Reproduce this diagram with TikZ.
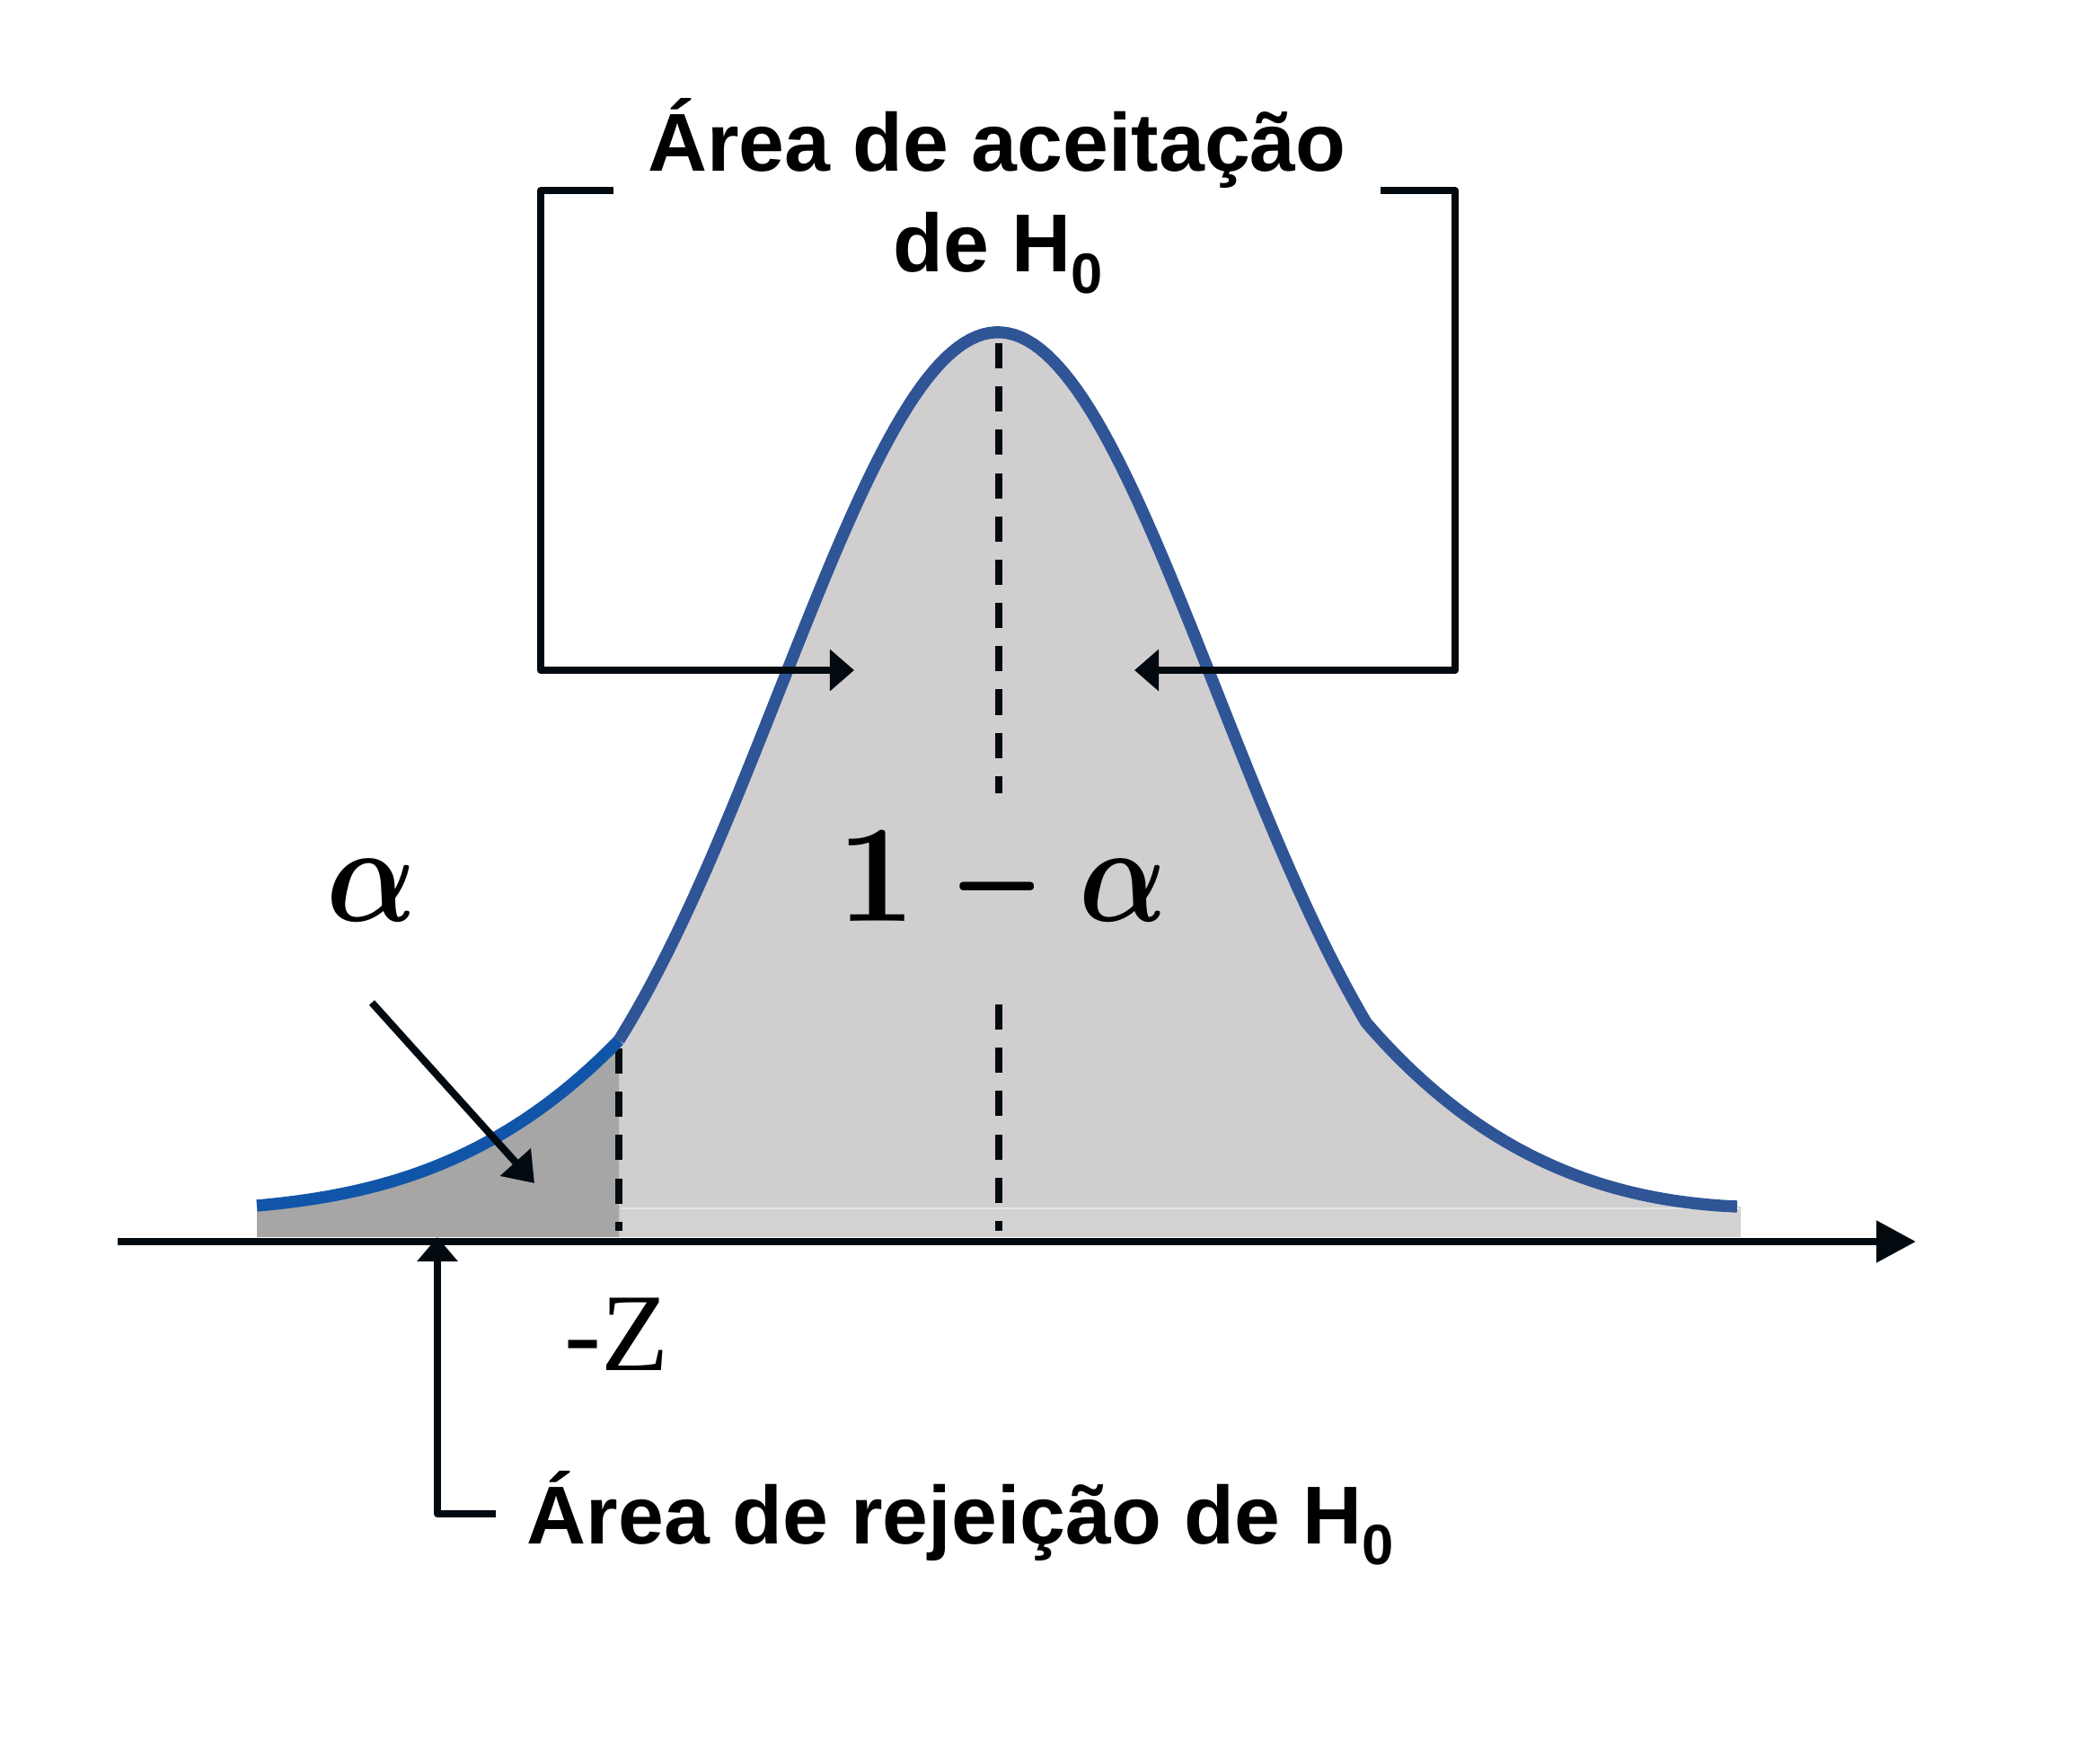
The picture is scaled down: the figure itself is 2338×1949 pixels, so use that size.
\documentclass[tikz,border=0pt]{standalone}
\usepackage{fontspec}
\setmainfont{Liberation Sans}
\newfontfamily\serifZ{Liberation Serif}
\usetikzlibrary{arrows.meta}
\definecolor{fillL}{HTML}{D0CECF}
\definecolor{fillD}{HTML}{A6A6A6}
\definecolor{fillS}{HTML}{D3D2D2}
\definecolor{curveA}{HTML}{1155A8}
\definecolor{curveB}{HTML}{2F5597}
\definecolor{ink}{HTML}{020A10}
\newcommand\hsub{\raisebox{-6.8pt}{\fontsize{18}{18}\selectfont 0}}
\tikzset{
  inkline/.style={draw=ink, line width=2.3pt, line join=round},
  brarrow/.style={-{Triangle[length=7.7pt,width=12.8pt]}},
  dashln/.style={draw=ink, line width=2pt, dash pattern=on 8pt off 5.7pt},
  crv/.style={line width=3.8pt},
  lbl/.style={inner sep=0pt, font=\bfseries\fontsize{26}{26}\selectfont, text=black},
  mathlbl/.style={inner sep=0pt, text=black}
}
\begin{document}
\begin{tikzpicture}[x=0.01cm, y=-0.01cm]
\useasboundingbox (0,0) rectangle (2338,1949);
% fills
\fill[fillL] (689,1377) -- (689,1158)
  -- plot[domain=689:1521, samples=120] (\x,{1382-1012*exp(-0.5*((\x-1111)/243)^2)})
  .. controls (1650,1288) and (1790,1337) .. (1934,1343) -- (1938,1343) -- (1938,1377) -- cycle;
\fill[fillS] (692,1345) rectangle (1937,1377);
\draw[white!90!black, line width=0.6pt] (692,1345) -- (1937,1345);
\fill[fillD] (286,1377) -- (286,1342) .. controls (421,1330) and (556,1295) .. (689,1158) -- (689,1377) -- cycle;
% coordinates
\coordinate (ctop) at (1112,382);
\coordinate (cmid1) at (1112,883);
\coordinate (cmid2) at (1112,1118);
\coordinate (cbot) at (1112,1370);
\coordinate (ztop) at (689,1167);
\coordinate (zbot) at (689,1370);
% dashed lines
\draw[dashln] (ctop) -- (cmid1);
\draw[dashln] (cmid2) -- (cbot);
\draw[dashln] (ztop) -- (zbot);
% curves
\draw[curveA, crv] (286,1342) .. controls (421,1330) and (556,1295) .. (689,1158);
\draw[curveB, crv, line join=round] plot[domain=689:1521, samples=120] (\x,{1382-1012*exp(-0.5*((\x-1111)/243)^2)})
  .. controls (1650,1288) and (1790,1337) .. (1934,1343);
% axis
\coordinate (axl) at (131,1382);
\coordinate (axr) at (2133,1382);
\draw[inkline, -{Triangle[length=12.5pt,width=12.8pt]}] (axl) -- (axr);
% brackets
\coordinate (bl0) at (683,212);
\coordinate (bl1) at (602,746);
\coordinate (bltip) at (951,746);
\coordinate (br0) at (1537,212);
\coordinate (br1) at (1620,746);
\coordinate (brtip) at (1263,746);
\draw[inkline, brarrow] (bl0) -| (bl1) -- (bltip);
\draw[inkline, brarrow] (br0) -| (br1) -- (brtip);
% alpha arrow
\coordinate (aa0) at (414,1116);
\coordinate (aa1) at (595,1317);
\draw[inkline, -{Triangle[length=9pt,width=12.5pt]}] (aa0) -- (aa1);
% rejection arrow
\coordinate (rj0) at (552,1685);
\coordinate (rj1) at (487,1377);
\draw[inkline, -{Triangle[length=7.7pt,width=12.5pt]}] (rj0) -| (rj1);
% texts
\node[lbl, anchor=base] (t1) at (1110,191) {Área de aceitação};
\node[lbl, anchor=base] (t2) at (1111,303) {de H\hsub};
\node[lbl, anchor=base west] (t3) at (586,1718) {Área de rejeição de H\hsub};
\node[mathlbl, anchor=base] (alab) at (414,1026) {\scalebox{3.75}[4.4]{\boldmath$\alpha$}};
\node[mathlbl, anchor=base] (oma) at (1116,1026) {\scalebox{4.3}[4.4]{\boldmath$\mathbf{1}\mskip4mu\scalebox{0.78}[1]{$-$}\mskip4mu\scalebox{0.85}[1]{$\alpha$}$}};
\node[inner sep=0pt, anchor=base west, font=\serifZ\fontsize{35}{35}\selectfont] (negz) at (628,1525) {-Z};
\end{tikzpicture}
\end{document}
